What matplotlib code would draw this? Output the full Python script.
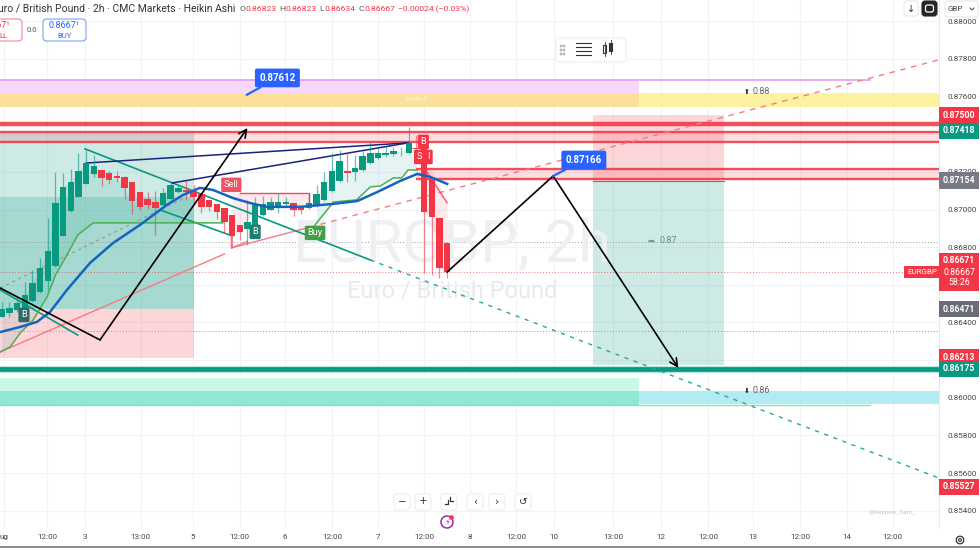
import numpy as np
import matplotlib
matplotlib.use('Agg')
import matplotlib.pyplot as plt
from matplotlib.patches import FancyBboxPatch, Circle, Rectangle

plt.rcParams['font.family'] = ['Roboto', 'DejaVu Sans']

GREEN = '#089981'
RED = '#f23645'
BLUE = '#2962ff'

# Heikin Ashi candles, 2h bars
opens = [.86431, .86449, .86466, .86475, .86514, .86560, .86622, .86700, .86861, .86992,
         .87069, .87138, .87189, .87212, .87193, .87180, .87175, .87147, .87095, .87056,
         .87042, .87022, .87054, .87092, .87104, .87099, .87083, .87049, .87030, .87010,
         .86971, .86916, .86899, .86918, .86971, .86999, .87019, .87028, .87033, .87015,
         .87007, .87021, .87051, .87097, .87152, .87205, .87200, .87210, .87246, .87274,
         .87288, .87295, .87304, .87299, .87327, .87327, .87157, .86954, .86823]
highs = [.86511, .86511, .86537, .86613, .86679, .86741, .86953, .87201, .87193, .87214,
         .87299, .87317, .87290, .87212, .87207, .87205, .87178, .87147, .87095, .87092,
         .87099, .87113, .87139, .87131, .87157, .87131, .87083, .87049, .87030, .87010,
         .86971, .86916, .87051, .87069, .87072, .87065, .87086, .87065, .87033, .87015,
         .87086, .87131, .87201, .87299, .87316, .87299, .87290, .87313, .87357, .87322,
         .87338, .87334, .87334, .87440, .87396, .87327, .87157, .86954, .86823]
lows = [.86431, .86431, .86458, .86458, .86511, .86555, .86573, .86697, .86861, .86989,
        .87065, .87136, .87175, .87125, .87136, .87148, .87054, .86976, .86998, .87001,
        .86863, .87019, .87051, .87090, .87051, .87024, .86980, .86994, .86950, .86874,
        .86794, .86838, .86812, .86918, .86968, .86998, .86980, .87015, .86968, .86975,
        .87003, .87015, .87047, .87093, .87148, .87148, .87154, .87207, .87242, .87269,
        .87281, .87286, .87285, .87295, .87306, .86663, .86652, .86636, .86634]
closes = [.86472, .86479, .86505, .86546, .86610, .86688, .86780, .87033, .87122, .87148,
          .87207, .87249, .87233, .87170, .87159, .87166, .87116, .87044, .87014, .87024,
          .87007, .87088, .87132, .87116, .87095, .87065, .87014, .87014, .86987, .86936,
          .86861, .86883, .86936, .87024, .87031, .87040, .87038, .87038, .86996, .86998,
          .87033, .87084, .87145, .87205, .87258, .87196, .87223, .87285, .87302, .87302,
          .87299, .87311, .87308, .87352, .87319, .86987, .86959, .86688, .86667]

# moving average and stop line
ma_idx = [-.2, 2.4, 4.6, 6.3, 8.5, 11.5, 14.5, 18, 21.5, 23.6, 25.8, 27.5, 30.1, 32.3, 34.5,
          38.8, 43.2, 46.3, 48.9, 51.9, 54.1, 55.8, 58]
ma_val = [.86349, .86376, .86403, .86456, .86573, .86716, .86822, .86918, .87024, .87077, .87115,
          .87104, .87061, .87035, .87014, .87014, .87030, .87045, .87093, .87152, .87189, .87173, .87136]
stop1_idx = [-.2, 1.1, 2.4, 4.1, 5.9, 7, 8.5, 9.9, 11.9, 28.8]
stop1_val = [.86243, .86270, .86344, .86413, .86535, .86652, .86759, .86865, .86929, .86929]
stop2_idx = [40.8, 43.2, 46.2, 48, 49.3, 51, 52.1, 52.9, 54.1]
stop2_val = [.86918, .87040, .87051, .87120, .87125, .87168, .87168, .87210, .87210]

# axis ticks
time_idx = [.3, 5.9, 10.85, 18.1, 24.9, 31, 36.9, 43, 49, 55, 61, 67, 71.9, 79.6, 85.8, 92, 97.8, 104, 110, 116]
time_labels = ['ug', '12:00', '3', '13:00', '5', '12:00', '6', '12:00', '7', '12:00', '8', '12:00', '10',
               '13:00', '12', '12:00', '13', '12:00', '14', '12:00']
price_ticks = [.880, .878, .876, .874, .872, .870, .868, .866, .864, .862, .860, .858, .856, .854]

# price tags on the scale: shown text and where the scale stacked it
tag_labels = ['0.87500', '0.87418', '0.87154', '0.86671', '0.86471', '0.86213', '0.86175', '0.85527']
tag_levels = [.87500, .87418, .87154, .86727, .86471, .86213, .86153, .85527]
tag_colors = [RED, GREEN, '#787b86', RED, '#6a6d78', RED, GREEN, RED]

fig = plt.figure(figsize=(9.8, 5.48), dpi=100)
ax = fig.add_axes([0, 20 / 548, 939 / 980, 528 / 548])
ax.set_xlim(-.22, 122.04)
ax.set_ylim(.85308, .88113)

ax.set_xticks(time_idx)
ax.set_xticklabels(time_labels)
ax.set_yticks(price_ticks)
ax.set_yticklabels(['%.5f' % p for p in price_ticks])
ax.yaxis.tick_right()
ax.tick_params(length=0, labelsize=5.8, labelcolor='#444444')
ax.tick_params(axis='x', pad=4)
ax.tick_params(axis='y', pad=6)
ax.grid(color='#f3f3f6', lw=.8)
ax.set_axisbelow(True)
for s in ['top', 'left', 'bottom']:
    ax.spines[s].set_visible(False)
ax.spines['right'].set_color('#e8e8ec')
ax.spines['right'].set_linewidth(.8)

# zones
ax.axhspan(.87619, .87688, xmax=83 / 122.04, color='#f5d8fb', lw=0, zorder=1)
ax.axhspan(.87545, .87619, xmax=83 / 122.04, color='#fbe09b', lw=0, zorder=1)
ax.axhspan(.87545, .87619, xmin=83 / 122.04, color='#fdf2a0', lw=0, zorder=1)
ax.plot([-.22, 113], [.87688, .87688], color='#e39ff0', lw=1.2, zorder=1.1)
ax.text(54, .87582, 'SUPPLY', fontsize=4.5, fontweight='bold', color='#fdf0c8', ha='center', va='center')

ax.axhspan(.86105, .86036, xmax=83 / 122.04, color='#c9f8e6', lw=0, zorder=1)
ax.axhspan(.86036, .85962, xmax=83 / 122.04, color='#92e6d4', lw=0, zorder=1)
ax.axhspan(.86036, .85967, xmin=83 / 122.04, color='#b2ebf2', lw=0, zorder=1)
ax.plot([-.22, 113], [.85962, .85962], color='#7ee8b0', lw=1, zorder=1.1)

# position boxes
ax.fill_between([-.22, 25], .86471, .87418, color=GREEN, alpha=.2, lw=0, zorder=1)
ax.fill_between([-.22, 25], .86471, .87067, color=GREEN, alpha=.2, lw=0, zorder=1)
ax.fill_between([-.22, 25], .86213, .86471, color=RED, alpha=.2, lw=0, zorder=1)
ax.fill_between([77, 94], .87154, .87500, color=RED, alpha=.2, lw=0, zorder=1)
ax.fill_between([77, 94], .86175, .87154, color=GREEN, alpha=.2, lw=0, zorder=1)
ax.plot([77, 94], [.87154, .87154], color='#777777', lw=.8, zorder=1.2)

# horizontal levels
ax.fill_between([-.22, 122.04], .87361, .87412, color=RED, alpha=.16, lw=0, zorder=1.5)
ax.fill_between([54, 122.04], .87162, .87215, color=RED, alpha=.16, lw=0, zorder=1.5)
for y, x0, lw in [(.87455, -.22, 3.2), (.87412, -.22, 1.7), (.87361, -.22, 1.7), (.87215, 54, 1.7), (.87162, 54, 1.7)]:
    ax.plot([x0, 122.04], [y, y], color=RED, lw=lw, alpha=.88, zorder=2, solid_capstyle='butt')
ax.axhline(.86153, color='#b8e6dc', lw=5, zorder=1.9)
ax.axhline(.86153, color=GREEN, lw=3.4, zorder=2)
ax.axhline(.86828, color='#9a9a9a', lw=.7, ls=(0, (1, 2)), zorder=1.5)
ax.axhline(.86355, color='#9a9a9a', lw=.7, ls=(0, (1, 2)), zorder=1.5)
ax.axhline(.86667, color=RED, lw=.7, ls=(0, (1, 2)), alpha=.7, zorder=1.5)

# fills behind price
fx = np.arange(0, 30)
ax.fill_between(fx, np.interp(fx, stop1_idx, stop1_val), np.array(closes)[fx], color=GREEN, alpha=.1, lw=0, zorder=1.6)
fx = np.arange(41, 55)
ax.fill_between(fx, np.interp(fx, stop2_idx, stop2_val), np.array(closes)[fx], color=GREEN, alpha=.1, lw=0, zorder=1.6)
fx = np.arange(30, 41)
ax.fill_between(fx, .87088, np.array(closes)[fx], color=RED, alpha=.1, lw=0, zorder=1.6)
fx = np.arange(55, 59)
ax.fill_between(fx, [.87210, .87210, .87120, .87040], np.array(closes)[fx], color=RED, alpha=.1, lw=0, zorder=1.6)

# watermark
ax.text(58.6, .86812, 'EURGBP, 2h', fontsize=43, color='#eeeff2', ha='center', va='center', zorder=1.55)
ax.text(58.6, .86567, 'Euro / British Pound', fontsize=17, color='#e9eaee', ha='center', va='center', zorder=1.55)
ax.text(119, .85392, '@Nephew_Sam_', fontsize=4.5, color='#c6c8ce', ha='right', va='center')

# drawn trend lines
ax.plot([-.2, 29], [.86243, .86764], color='#f77c80', lw=1, zorder=2.5)
ax.plot([29.9, 40.1], [.86796, .86906], color='#f77c80', lw=1, zorder=2.5)
ax.plot([40.1, 122], [.86906, .87795], color='#f77c80', lw=1, ls=(0, (4, 4)), zorder=2.5)
ax.plot([10.85, 48], [.87322, .86732], color=GREEN, lw=1.2, zorder=2.5)
ax.plot([48, 122], [.86732, .85574], color='#22ab94', lw=1, ls=(0, (3, 4)), zorder=2.5)
ax.plot([20.6, 30], [.86998, .86860], color=GREEN, lw=1.2, zorder=2.5)
ax.plot([-.2, 9.9], [.86573, .86333], color=GREEN, lw=1.2, zorder=2.5)
ax.plot([11, 52.9], [.87247, .87354], color='#1a237e', lw=1.1, zorder=2.5)
ax.plot([22.2, 52.9], [.87141, .87354], color='#1a237e', lw=1.1, zorder=2.5)
ax.plot([-.2, 24.1], [.86583, .87067], color='#999999', lw=.8, ls=(0, (3, 3)), zorder=2.5)
ax.plot([29.9, 29.9, 32], [.86913, .86796, .86830], color='#f77c80', lw=1, zorder=2.5)
ax.plot([31, 40, 40], [.87088, .87088, .87035], color=RED, lw=1, alpha=.9, zorder=2.5)
ax.plot([55.2, 58], [.87210, .87035], color=RED, lw=1, alpha=.8, zorder=2.5)

# candles
for i in range(len(opens)):
    col = GREEN if closes[i] >= opens[i] else RED
    ax.vlines(i, lows[i], highs[i], color=col, lw=.9, alpha=.6, zorder=3)
    ax.bar(i, abs(closes[i] - opens[i]), bottom=min(opens[i], closes[i]), width=.84, color=col, lw=0, zorder=3.1)

# MA and stop line
ax.plot(stop1_idx, stop1_val, color='#4caf50', lw=1.1, zorder=3.2)
ax.plot(stop2_idx, stop2_val, color='#4caf50', lw=1.1, zorder=3.2)
ax.plot(ma_idx, ma_val, color='#1565c0', lw=1.8, zorder=3.3)

# black arrows
ax.plot([-.2, 12.8], [.86583, .86307], color='black', lw=1.2, zorder=5)
ax.annotate('', xy=(32, .87433), xytext=(12.8, .86307), zorder=5,
            arrowprops=dict(arrowstyle='->', color='black', lw=1.2, shrinkA=0, shrinkB=0, mutation_scale=14))
ax.plot([58, 71.8], [.86668, .87178], color='black', lw=1.2, zorder=5)
ax.annotate('', xy=(88.1, .86158), xytext=(71.8, .87178), zorder=5,
            arrowprops=dict(arrowstyle='->', color='black', lw=1.2, shrinkA=0, shrinkB=0, mutation_scale=14))

# blue callouts
for tip, pos, s in [((31.9, .87609), (35.9, .87699), '0.87612'), ((71.8, .87178), (75.8, .87263), '0.87166')]:
    ax.annotate(s, xy=tip, xytext=pos, fontsize=7, fontweight='bold', color='white', ha='center', va='center', zorder=6,
                bbox=dict(boxstyle='round,pad=.45,rounding_size=.2', fc=BLUE, ec='none'),
                arrowprops=dict(arrowstyle='-', color=BLUE, lw=1.6, shrinkA=0, shrinkB=0))

# signal tags
for x, y, s, col in [(29.9, .87131, 'Sell', '#f0525f'), (40.8, .86876, 'Buy', '#43a047'),
                     (2.9, .86440, 'B', '#2d6b64'), (33, .86881, 'B', '#1f7d6e'),
                     (54.9, .87359, 'B', RED), (54.4, .87279, 'S', RED), (55.6, .87279, 'I', RED)]:
    ax.text(x, y, s, fontsize=6.6, color='white', ha='center', va='center', zorder=6,
            bbox=dict(boxstyle='round,pad=.3,rounding_size=.15', fc=col, ec='none'))

# level labels
ax.text(97, .87625, '⬆', fontsize=5, color='#222222', ha='center', va='center', family=['DejaVu Sans'])
ax.text(97.7, .87625, '0.88', fontsize=6.4, color='#666666', ha='left', va='center')
ax.text(97, .86036, '⬇', fontsize=5, color='#222222', ha='center', va='center', family=['DejaVu Sans'])
ax.text(97.7, .86036, '0.86', fontsize=6.4, color='#666666', ha='left', va='center')
ax.text(84.5, .86833, '➡', fontsize=6, color='#5f9f90', ha='center', va='center', family=['DejaVu Sans'])
ax.text(85.6, .86833, '0.87', fontsize=6.4, color='#5f8f85', ha='left', va='center')

# scale tags
ytr = ax.get_yaxis_transform()
for s, p, col in zip(tag_labels, tag_levels, tag_colors):
    ax.text(959 / 939, p, s, transform=ytr, fontsize=6.3, fontweight='bold', color='white', ha='center', va='center',
            zorder=8, clip_on=False, bbox=dict(boxstyle='square,pad=.42', fc=col, ec='none'))
ax.text(959 / 939, .86639, '0.86667\n58:26', transform=ytr, fontsize=6.3, color='white', ha='center', va='center',
        zorder=8, clip_on=False, linespacing=1.15, bbox=dict(boxstyle='square,pad=.42', fc=RED, ec='none'))
ax.text(922 / 939, .86667, 'EURGBP', transform=ytr, fontsize=5.8, color='white', ha='center', va='center',
        zorder=8, clip_on=False, bbox=dict(boxstyle='square,pad=.35', fc=RED, ec='none'))

# interface overlay in pixels
ui = fig.add_axes([0, 0, 1, 1], zorder=10)
ui.set_xlim(0, 980)
ui.set_ylim(548, 0)
ui.axis('off')


def button(x, y, w, h, fc='white', ec='#e6e6ea', r=3):
    ui.add_patch(FancyBboxPatch((x, y), w, h, boxstyle='round,pad=0,rounding_size=%d' % r, fc=fc, ec=ec, lw=.8))


ui.plot([0, 980], [546.5, 546.5], color='#8a8a8a', lw=1.4)

# header
ui.text(-8, 9, 'Euro / British Pound · 2h · CMC Markets · Heikin Ashi', fontsize=7.5, color='#333333', va='center')
for x, s, col in [(239, 'O', '#555555'), (245, '0.86823', RED), (279, 'H', '#555555'), (285, '0.86823', RED),
                  (319, 'L', '#555555'), (324, '0.86634', RED), (358, 'C', '#555555'), (364, '0.86667', RED),
                  (398, '−0.00024 (−0.03%)', RED)]:
    ui.text(x, 9, s, fontsize=6.1, color=col, va='center')
button(-10, 19, 32, 22, ec='#f08a92', r=4)
ui.text(1, 25.5, '667¹', fontsize=6.5, color=RED, va='center', ha='center')
ui.text(3, 35.5, 'LL', fontsize=5.5, color=RED, va='center', ha='center')
ui.text(32, 30, '0.0', fontsize=5.5, color='#555555', va='center', ha='center')
button(43, 19, 43, 22, ec='#7aa2f7', r=4)
ui.text(64.5, 25.5, '0.8667¹', fontsize=6.5, color=BLUE, va='center', ha='center')
ui.text(64.5, 35.5, 'BUY', fontsize=5.5, color=BLUE, va='center', ha='center')

# top right controls
button(904, 1, 14, 15)
ui.text(911, 8.5, '↓', fontsize=7, color='#333333', ha='center', va='center', family=['DejaVu Sans'])
button(922, 1, 15, 15, fc='#262626', ec='#262626')
ui.add_patch(FancyBboxPatch((925.5, 5), 8, 7, boxstyle='round,pad=0,rounding_size=2', fc='none', ec='white', lw=.9))
button(945, 1, 33, 16)
ui.text(947, 9, 'GBP', fontsize=5.8, color='#444444', va='center')
ui.plot([970, 972, 974], [8, 10, 8], color='#444444', lw=.7)

# floating toolbar
button(556, 38, 70, 24, ec='#eeeeee', r=3)
for dx in (561, 564):
    for dy in (46, 50, 54):
        ui.add_patch(Circle((dx, dy), .7, color='#b5b5b5'))
for yy in (43, 47, 51, 55):
    ui.plot([576, 591], [yy, yy], color='#333333', lw=.8)
ui.add_patch(Rectangle((603, 45), 3, 8, fc='none', ec='#333333', lw=.8))
ui.add_patch(Rectangle((609, 43), 3, 8, fc='#333333', ec='#333333', lw=.8))
ui.plot([604.5, 604.5], [42, 56], color='#333333', lw=.6)
ui.plot([610.5, 610.5], [40, 54], color='#333333', lw=.6)

# bottom buttons
for x, s in [(402, '−'), (423, '+'), (449, ''), (475, '‹'), (497, '›'), (523, '↺')]:
    button(x - 8, 494, 16, 16, ec='#eeeeee')
    ui.text(x, 501.5, s, fontsize=7.5, color='#333333', ha='center', va='center', family=['DejaVu Sans'])
ui.plot([445, 448, 448], [504, 504, 500], color='#333333', lw=.9)
ui.plot([450, 450, 453], [497, 501, 501], color='#333333', lw=.9)
ui.add_patch(Circle((447, 522), 6, fc='none', ec='#9c27b0', lw=1.1))
ui.text(447, 522, '⚡', fontsize=6, color='#9c27b0', ha='center', va='center', family=['DejaVu Sans'])
ui.add_patch(Circle((451.5, 517.5), 1.6, color=RED))

# gear
ui.add_patch(Circle((960, 540), 3.8, fc='none', ec='#333333', lw=.9))
ui.add_patch(Circle((960, 540), 1.4, fc='none', ec='#333333', lw=.8))

fig.savefig('out.png', dpi=100)
